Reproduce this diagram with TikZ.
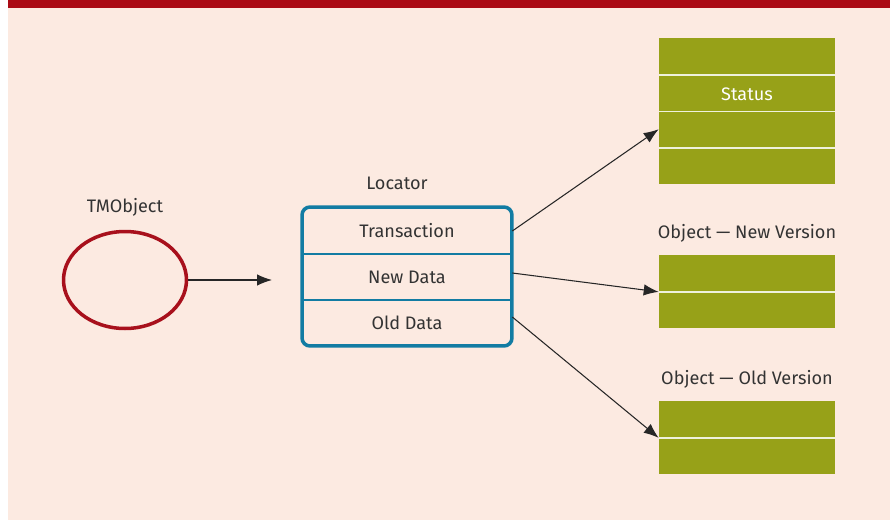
\documentclass[tikz,border=0pt]{standalone}
\usepackage{fontspec}
\setmainfont{Fira Sans}
\usetikzlibrary{arrows.meta, shapes.geometric, positioning}
\definecolor{PaperPink}{RGB}{252,234,225}
\definecolor{BarRed}{RGB}{171,11,21}
\definecolor{RingRed}{RGB}{168,16,28}
\definecolor{LocTeal}{RGB}{18,124,163}
\definecolor{ObjOlive}{RGB}{151,161,24}
\definecolor{InkGray}{RGB}{51,51,51}

\begin{document}
\begin{tikzpicture}[x=0.02cm,y=-0.02cm,
        lbl/.style={text=InkGray,font=\fontsize{10.3}{12}\selectfont},
        row/.style={minimum width=4.2cm,minimum height=0.926cm,inner sep=0pt,
                    text=InkGray,font=\fontsize{10.3}{12}\selectfont},
        cell/.style={fill=ObjOlive,minimum width=3.52cm,minimum height=0.73cm,
                     inner sep=0pt,text=white,font=\fontsize{10.3}{12}\selectfont},
        sep/.style={white!85!ObjOlive,line width=0.8pt},
        ptr/.style={-{Latex[length=8.5pt,width=6.5pt]},line width=0.6pt,draw=black!85}
      ]
        \useasboundingbox (0,0) rectangle (890,521);
        \fill[PaperPink] (8,8) rectangle (890,520);
        \fill[BarRed] (8,0) rectangle (890,8);

        % transactional object
        \node[ellipse,draw=RingRed,line width=2pt,minimum width=2.46cm,
              minimum height=1.94cm] (tmo) at (125,280) {};
        \node[lbl] (tmolbl) at (125,207) {TMObject};
        \coordinate (tmotip) at (272,280);

        % locator
        \node[row] (trans) at (407,231) {Transaction};
        \node[row] (newd) at (407,277) {New Data};
        \node[row] (oldd) at (407,323) {Old Data};
        \draw[LocTeal,line width=0.8pt]
          ([yshift=0.01cm]trans.south west) -- ([yshift=0.01cm]trans.south east)
          ([yshift=0.01cm]newd.south west) -- ([yshift=0.01cm]newd.south east);
        \node[draw=LocTeal,line width=2pt,rounded corners=0.16cm,
              minimum width=4.2cm,minimum height=2.78cm] (loc) at (407,276.5) {};
        \node[lbl] (loclbl) at (397,183) {Locator};

        % status record
        \foreach \i in {1,...,4}
          \node[cell] (st\i) at (747,{38+36.5*\i-18.25}) {};
        \node[text=white,font=\fontsize{10.3}{12}\selectfont] at ([yshift=-0.03cm]st2) {Status};
        \foreach \i in {1,...,3}
          \draw[sep] (st\i.south west) -- (st\i.south east);

        % object versions
        \node[lbl] (nvlbl) at (747,233) {Object — New Version};
        \node[cell] (nv1) at (747,273.25) {};
        \node[cell] (nv2) at (747,309.75) {};
        \draw[sep] (nv1.south west) -- (nv1.south east);

        \node[lbl] (ovlbl) at (747,379) {Object — Old Version};
        \node[cell] (ov1) at (747,419.25) {};
        \node[cell] (ov2) at (747,455.75) {};
        \draw[sep] (ov1.south west) -- (ov1.south east);

        % pointers
        \draw[ptr] (tmo.east) -- (tmotip);
        \draw[ptr] (trans.east) -- (st3.west);
        \draw[ptr] ([yshift=0.08cm]newd.east) -- (nv1.south west);
        \draw[ptr] ([yshift=0.12cm]oldd.east) -- (ov1.south west);
      \end{tikzpicture}
\end{document}
